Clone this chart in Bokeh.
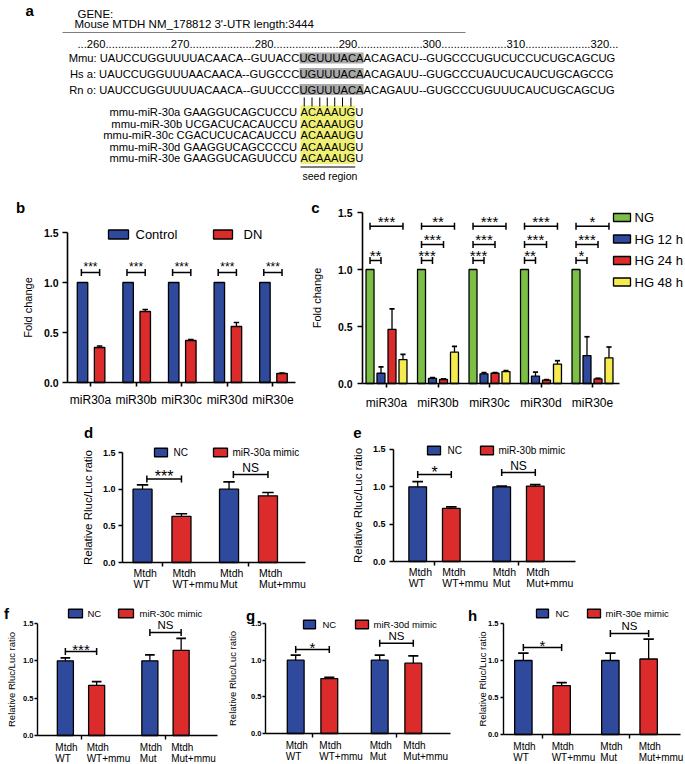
import numpy as np
from bokeh.plotting import figure
from bokeh.layouts import column, row
from bokeh.models import Range1d, FixedTicker, PrintfTickFormatter, ColumnDataSource
from bokeh.embed import file_html
from bokeh.resources import INLINE
from bokeh.core.properties import value

FONT = "Liberation Sans"
BLUE = "#2F4A9C"
RED = "#DC2B2B"
GREEN = "#7DBF46"
YELLOW = "#F5EB4F"
GRAY_HL = "#A9A9A9"
YELLOW_HL = "#EFEF73"

# ---------------- data: panel a ----------------
gene_header = "GENE:"
gene_desc = "Mouse MTDH NM_178812 3'-UTR length:3444"
utr_positions = ["260", "270", "280", "290", "300", "310", "320"]
species = ["Mmu:", "Hs a:", "Rn o:"]
utr_5p = ["UAUCCUGGUUUUACAACA--GUUACC",
          "UAUCCUGGUUUAACAACA--GUGCCC",
          "UAUCCUGGUUUUACAACA--GUUCCC"]
utr_site = ["UGUUUACA", "UGUUUACA", "UGUUUACA"]
utr_3p = ["ACAGACU--GUGCCCUGUCUCCUCUGCAGCUG",
          "ACAGAUU--GUGCCCUAUCUCAUCUGCAGCCG",
          "ACAGAUU--GUGCCCUGUUUCAUCUGCAGCUG"]
mirna_names = ["mmu-miR-30a", "mmu-miR-30b", "mmu-miR-30c", "mmu-miR-30d", "mmu-miR-30e"]
mirna_3end = ["GAAGGUCAGCUCCU", "UCGACUCACAUCCU", "CGACUCUCACAUCCU",
              "GAAGGUCAGCCCCU", "GAAGGUCAGUUCCU"]
mirna_seed = "ACAAAUG"
mirna_5end = "U"
seed_caption = "seed region"

# ---------------- data: panel b ----------------
mir_categories = ["miR30a", "miR30b", "miR30c", "miR30d", "miR30e"]
b_series = ["Control", "DN"]
control_fc = [1.0, 1.0, 1.0, 1.0, 1.0]
control_err = [0.0, 0.0, 0.0, 0.0, 0.0]
dn_fc = [0.35, 0.71, 0.42, 0.56, 0.09]
dn_err = [0.015, 0.02, 0.01, 0.04, 0.004]
dn_sig = ["***", "***", "***", "***", "***"]

# ---------------- data: panel c ----------------
c_series = ["NG", "HG 12 h", "HG 24 h", "HG 48 h"]
ng_fc = [1.0, 1.0, 1.0, 1.0, 1.0]
ng_err = [0.0, 0.0, 0.0, 0.0, 0.0]
hg12_fc = [0.09, 0.045, 0.085, 0.065, 0.245]
hg12_err = [0.055, 0.006, 0.01, 0.035, 0.165]
hg24_fc = [0.475, 0.035, 0.09, 0.03, 0.04]
hg24_err = [0.18, 0.005, 0.005, 0.004, 0.006]
hg48_fc = [0.21, 0.275, 0.105, 0.17, 0.225]
hg48_err = [0.045, 0.05, 0.008, 0.03, 0.095]
sig_ng_vs_12 = ["**", "***", "***", "**", "*"]
sig_ng_vs_24 = ["", "***", "***", "***", "***"]
sig_ng_vs_48 = ["***", "**", "***", "***", "*"]

# ---------------- data: panels d-h (luciferase) ----------------
luc_groups = ["WT", "Mut"]
luc_line1 = ["Mtdh", "Mtdh", "Mtdh", "Mtdh"]
luc_line2 = ["WT", "WT+mmu", "Mut", "Mut+mmu"]
luc_series = "NC"
mimic_names = ["miR-30a mimic", "miR-30b mimic", "miR-30c mimic", "miR-30d mimic", "miR-30e mimic"]
luc_ylabel = "Relative Rluc/Luc ratio"

d_nc = [1.0, 1.0]
d_nc_err = [0.06, 0.10]
d_mimic = [0.63, 0.91]
d_mimic_err = [0.035, 0.045]
d_sig = ["***", "NS"]

e_nc = [1.0, 1.0]
e_nc_err = [0.07, 0.01]
e_mimic = [0.71, 1.01]
e_mimic_err = [0.02, 0.02]
e_sig = ["*", "NS"]

f_nc = [1.0, 1.0]
f_nc_err = [0.04, 0.08]
f_mimic = [0.67, 1.14]
f_mimic_err = [0.05, 0.16]
f_sig = ["***", "NS"]

g_nc = [1.0, 1.0]
g_nc_err = [0.07, 0.07]
g_mimic = [0.75, 0.96]
g_mimic_err = [0.015, 0.10]
g_sig = ["*", "NS"]

h_nc = [1.0, 1.0]
h_nc_err = [0.10, 0.10]
h_mimic = [0.66, 1.02]
h_mimic_err = [0.04, 0.27]
h_sig = ["*", "NS"]

# ---------------- helpers ----------------
W = {"A": 667, "C": 722, "G": 778, "U": 722, "-": 333, ".": 278, " ": 278, ":": 278,
     "M": 833, "m": 833, "u": 556, "H": 722, "s": 500, "a": 556, "R": 722, "n": 556,
     "o": 556, "i": 222}
for _d in "0123456789":
    W[_d] = 556


def tw(s, size):
    return sum(W.get(c, 556) for c in s) * size / 1000.0


def X(g, px):
    return (px - g["c0"]) / g["ux"]


def Y(g, py):
    return (g["y0"] - py) / g["uy"]


def make_fig(g):
    p = figure(width=g["w"], height=g["h"],
               x_range=Range1d(X(g, g["ox"]), X(g, g["ox"] + g["w"])),
               y_range=Range1d(Y(g, g["oy"] + g["h"]), Y(g, g["oy"])),
               output_backend="svg", toolbar_location=None, min_border=0)
    p.outline_line_color = None
    p.xgrid.visible = False
    p.ygrid.visible = False
    p.background_fill_color = "white"
    p.border_fill_color = "white"
    return p


def style_axes(p, g, xlabels, s):
    p.yaxis.fixed_location = X(g, g["ax"])
    p.xaxis.fixed_location = 0
    p.xaxis.bounds = (X(g, g["ax"]), X(g, g["xend"]))
    p.yaxis.bounds = (0, 1.5)
    p.xaxis.ticker = FixedTicker(ticks=list(range(len(xlabels))))
    p.xaxis.major_label_overrides = {i: t for i, t in enumerate(xlabels)}
    p.yaxis.ticker = FixedTicker(ticks=[0, 0.5, 1.0, 1.5])
    p.yaxis.formatter = PrintfTickFormatter(format="%.1f")
    for ax in (p.xaxis[0], p.yaxis[0]):
        ax.axis_line_color = "black"
        ax.axis_line_width = s["lw"]
        ax.major_tick_line_color = "black"
        ax.major_tick_line_width = s["lw"]
        ax.minor_tick_line_color = None
        ax.major_tick_in = 0
        ax.major_label_text_font = FONT
        ax.major_label_text_color = "black"
        ax.axis_label_text_font = FONT
        ax.axis_label_text_font_style = "normal"
        ax.axis_label_text_color = "black"
    p.xaxis.major_tick_out = int(s["xtick"])
    p.yaxis.major_tick_out = int(s["ytick"])
    p.yaxis.major_label_text_font_style = "bold"
    p.yaxis.major_label_text_font_size = f"{s['ytick_px']}px"
    p.yaxis.major_label_standoff = int(s["ystand"])
    p.yaxis.axis_label = s["ylabel"]
    p.yaxis.axis_label_text_font_size = f"{s['ylab_px']}px"
    p.yaxis.axis_label_standoff = int(s["ylab_stand"])
    p.xaxis.major_label_text_font_size = f"{s['xlab_px']}px"
    p.xaxis.major_label_standoff = int(s["xstand"])


def bars(p, xs, tops, errs, width, color, cap_half, lw=1.3):
    src = ColumnDataSource(dict(x=[float(v) for v in xs], top=list(tops)))
    p.vbar(x="x", top="top", bottom=0, width=width, fill_color=color,
           line_color="black", line_width=lw, source=src)
    ex = [float(x) for x, e in zip(xs, errs) if e > 0]
    et = [t for t, e in zip(tops, errs) if e > 0]
    ee = [t + e for t, e in zip(tops, errs) if e > 0]
    if ex:
        p.segment(x0=ex, y0=et, x1=ex, y1=ee, line_color="black", line_width=lw)
        p.segment(x0=[x - cap_half for x in ex], y0=ee, x1=[x + cap_half for x in ex], y1=ee,
                  line_color="black", line_width=lw + 0.4)


def brackets(p, g, x0s, x1s, levels, labels, font_px, off_px, tick_px=3.5, lw=1.5,
             ns_px=None, ns_off=None):
    bx0, by0, bx1, by1 = [], [], [], []
    th = tick_px / g["uy"]
    tx, ty, tt, ts = [], [], [], []
    for a, b, lv, lab in zip(x0s, x1s, levels, labels):
        if not lab:
            continue
        a, b = float(a), float(b)
        bx0 += [a, a, b]
        bx1 += [b, a, b]
        by0 += [lv, lv - th, lv - th]
        by1 += [lv, lv + th, lv + th]
        tx.append((a + b) / 2)
        tt.append(lab)
        if lab == "NS":
            ty.append(lv + (ns_off if ns_off is not None else off_px) / g["uy"])
            ts.append(f"{ns_px if ns_px else font_px}px")
        else:
            ty.append(lv + off_px / g["uy"])
            ts.append(f"{font_px}px")
    p.segment(x0=bx0, y0=by0, x1=bx1, y1=by1, line_color="black", line_width=lw)
    src = ColumnDataSource(dict(x=tx, y=ty, t=tt, s=ts))
    p.text(x="x", y="y", text="t", text_font_size="s", text_align="center",
           text_baseline="middle", text_font=value(FONT), text_color="black", source=src)


def legend_boxes(p, g, items, font_px, box_h):
    for x0, x1, txp, yp, lab, col in items:
        p.quad(left=[X(g, x0)], right=[X(g, x1)], top=[Y(g, yp - box_h / 2)],
               bottom=[Y(g, yp + box_h / 2)], fill_color=col, line_color="black", line_width=1.3)
        p.text(x=[X(g, txp)], y=[Y(g, yp)], text=[lab], text_font=value(FONT),
               text_font_size=f"{font_px}px", text_baseline="middle", text_align="left",
               text_color="black")


def panel_letter(p, g, letter, lx, ly, size=15):
    p.text(x=[X(g, lx)], y=[Y(g, ly)], text=[letter], text_font=value(FONT),
           text_font_size=f"{size}px", text_font_style="bold", text_align="center",
           text_baseline="middle", text_color="black")


# ---------------- panel a ----------------
SZ = 11.2
pa = figure(width=685, height=185, x_range=Range1d(0, 685), y_range=Range1d(185, 0),
            output_backend="svg", toolbar_location=None, x_axis_type=None, y_axis_type=None,
            min_border=0)
pa.outline_line_color = None
pa.background_fill_color = "white"
pa.border_fill_color = "white"
txt = dict(text_font=value(FONT), text_color="black", text_baseline="middle")
pa.text(x=[25], y=[10], text=["a"], text_font_size="15px", text_font_style="bold", **txt)
pa.text(x=[77, 74], y=[13, 23.5], text=[gene_header, gene_desc], text_font_size="11.5px", **txt)
pa.segment(x0=[62], y0=[32], x1=[465], y1=[32], line_color="#7F7F7F", line_width=1.2)
pos_line = "..." + ("." * 21).join(utr_positions) + "..."
pa.text(x=[77], y=[43], text=[pos_line], text_font_size=f"{SZ}px", **txt)

row_y = [57.5, 73, 89]
site_x = 299
site_w = [tw(s, SZ) for s in utr_site]
utr_left = [f"{sp} {s}" for sp, s in zip(species, utr_5p)]
pa.quad(left=[site_x] * 3, right=[site_x + w for w in site_w],
        top=[y - 5.5 for y in row_y], bottom=[y + 5.5 for y in row_y],
        fill_color=GRAY_HL, line_color=None)
pa.text(x=[site_x - tw(t, SZ) for t in utr_left], y=row_y, text=utr_left,
        text_align="left", text_font_size=f"{SZ}px", **txt)
pa.text(x=[site_x] * 3, y=row_y, text=utr_site, text_align="left", text_font_size=f"{SZ}px", **txt)
pa.text(x=[site_x + w for w in site_w], y=row_y, text=utr_3p, text_align="left",
        text_font_size=f"{SZ}px", **txt)

mir_y = [111, 123, 134.5, 146, 157.5]
seed_x = 300
seed_w = tw(mirna_seed, SZ)
mir_left = [f"{n}  {s}" for n, s in zip(mirna_names, mirna_3end)]
pa.quad(left=[seed_x], right=[seed_x + seed_w], top=[105], bottom=[163.5],
        fill_color=YELLOW_HL, line_color=None)
pa.text(x=[seed_x - tw(t, SZ) for t in mir_left], y=mir_y, text=mir_left,
        text_align="left", text_font_size=f"{SZ}px", **txt)
pa.text(x=[seed_x] * 5, y=mir_y, text=[mirna_seed] * 5, text_align="left",
        text_font_size=f"{SZ}px", **txt)
pa.text(x=[seed_x + seed_w] * 5, y=mir_y, text=[mirna_5end] * 5, text_align="left",
        text_font_size=f"{SZ}px", **txt)
cum = np.cumsum([0] + [W[c] for c in mirna_seed]) * SZ / 1000.0
centers = [float(v) for v in seed_x + (cum[:-1] + cum[1:]) / 2]
pa.segment(x0=centers, y0=[97] * len(centers), x1=centers, y1=[106] * len(centers),
           line_color="black", line_width=1)
pa.segment(x0=[seed_x], y0=[166.5], x1=[seed_x + seed_w], y1=[166.5], line_color="black", line_width=1)
pa.text(x=[seed_x + seed_w / 2 + 2], y=[175.5], text=[seed_caption], text_align="center",
        text_font_size="10.5px", **txt)

# ---------------- panel b ----------------
gb = dict(ox=0, oy=185, w=310, h=240, ax=67, c0=90, ux=45.6, y0=382, uy=100, xend=295)
pb = make_fig(gb)
style_axes(pb, gb, mir_categories,
           dict(lw=1.6, xtick=4, ytick=5, ytick_px=10.5, ystand=4, ylabel="Fold change",
                ylab_px=11, ylab_stand=7, xlab_px=12, xstand=6))
xi = np.arange(len(mir_categories))
bars(pb, xi - 0.175, control_fc, control_err, 0.23, BLUE, 0.06)
bars(pb, xi + 0.2, dn_fc, dn_err, 0.23, RED, 0.06)
brackets(pb, gb, list(xi - 0.2), list(xi + 0.2), [1.10] * 5, dn_sig, 12, 6)
legend_boxes(pb, gb, [(108, 128, 135, 234, b_series[0], BLUE),
                      (213, 232, 243, 234, b_series[1], RED)], 13, 9)
panel_letter(pb, gb, "b", 20, 207)

# ---------------- panel c ----------------
gc = dict(ox=310, oy=185, w=375, h=240, ax=362, c0=386, ux=51.5, y0=383, uy=114, xend=619)
pc = make_fig(gc)
style_axes(pc, gc, mir_categories,
           dict(lw=1.6, xtick=4, ytick=5, ytick_px=10.5, ystand=5, ylabel="Fold change",
                ylab_px=11, ylab_stand=12, xlab_px=12, xstand=8))
offs = [-0.32, -0.107, 0.107, 0.32]
bars(pc, xi + offs[0], ng_fc, ng_err, 0.155, GREEN, 0.05)
bars(pc, xi + offs[1], hg12_fc, hg12_err, 0.155, BLUE, 0.05)
bars(pc, xi + offs[2], hg24_fc, hg24_err, 0.155, RED, 0.05)
bars(pc, xi + offs[3], hg48_fc, hg48_err, 0.155, YELLOW, 0.05)
brackets(pc, gc, list(xi + offs[0]), list(xi + offs[1]), [1.08] * 5, sig_ng_vs_12, 15, 4.5)
brackets(pc, gc, list(xi + offs[0]), list(xi + offs[2]), [1.22] * 5, sig_ng_vs_24, 15, 4.5)
brackets(pc, gc, list(xi + offs[0]), list(xi + offs[3]), [1.38] * 5, sig_ng_vs_48, 15, 4.5)
legend_boxes(pc, gc, [(613, 630, 634, 217, c_series[0], GREEN),
                      (613, 630, 634, 238.5, c_series[1], BLUE),
                      (613, 630, 634, 260, c_series[2], RED),
                      (613, 630, 634, 281.5, c_series[3], YELLOW)], 13, 8)
panel_letter(pc, gc, "c", 315, 207)


# ---------------- luciferase panels ----------------
def luc_panel(g, nc, nc_err, mimic, mimic_err, sig, mimic_name, letter, lpos, legend, st):
    p = make_fig(g)
    style_axes(p, g, ["", ""], st)
    xg = np.arange(len(luc_groups))
    off, bw = st["off"], st["bw"]
    bars(p, xg - off, nc, nc_err, bw, BLUE, bw * 0.3)
    bars(p, xg + off, mimic, mimic_err, bw, RED, bw * 0.3)
    brackets(p, g, list(xg - off + st["bl"]), list(xg + off + st["br"]), st["levels"], sig,
             st["star_px"], st["star_off"], ns_px=st["ns_px"], ns_off=st["ns_off"])
    ly, ncx0, ncx1, nct, mx0, mx1, mt = legend
    legend_boxes(p, g, [(ncx0, ncx1, nct, ly, luc_series, BLUE),
                        (mx0, mx1, mt, ly, mimic_name, RED)], st["leg_px"], 8.5)
    xs = [float(v) for v in (xg[0] - off, xg[0] + off, xg[1] - off, xg[1] + off)]
    dx = st["lab_dx"] / g["ux"]
    for lines, yo in ((luc_line1, st["l1"]), (luc_line2, st["l2"])):
        p.text(x=[x + dx for x in xs], y=[-yo / g["uy"]] * 4, text=lines,
               text_font=value(FONT), text_font_size=f"{st['lab_px']}px",
               text_align="left", text_baseline="middle", text_color="black")
    panel_letter(p, g, letter, lpos[0], lpos[1], st.get("letter_px", 15))
    return p


base_de = dict(lw=1.5, xtick=4, ytick=4, ytick_px=9, ystand=3, ylabel=luc_ylabel,
               ylab_px=11.5, xlab_px=1, xstand=2, star_px=16, star_off=2, ns_px=12,
               ns_off=7, leg_px=10, lab_px=10.5, l1=10, l2=21, lab_dx=-9)
base_fgh = dict(lw=1.4, xtick=4, ytick=3, ytick_px=7.5, ystand=1, ylabel=luc_ylabel,
                ylab_px=9.5, xlab_px=1, xstand=2, star_px=15, star_off=2, ns_px=11.5,
                ns_off=7, leg_px=9.5, lab_px=10, l1=12, l2=23, lab_dx=-10)

gd = dict(ox=0, oy=425, w=340, h=163, ax=122, c0=161.5, ux=86.5, y0=562, uy=73.3, xend=305)
pd_ = luc_panel(gd, d_nc, d_nc_err, d_mimic, d_mimic_err, d_sig, mimic_names[0], "d",
                (88, 432), (452, 154, 167, 173, 213, 227, 232),
                dict(base_de, off=0.225, bw=0.22, bl=0.05, br=0.0, levels=[1.14, 1.20],
                     ylab_stand=6))

ge = dict(ox=340, oy=425, w=345, h=163, ax=393, c0=434, ux=84, y0=561, uy=74.7, xend=575)
pe_ = luc_panel(ge, e_nc, e_nc_err, e_mimic, e_mimic_err, e_sig, mimic_names[1], "e",
                (357, 432), (450, 427, 440, 447, 480, 493, 498),
                dict(base_de, off=0.2, bw=0.21, bl=0.0, br=0.0, levels=[1.165, 1.19],
                     ylab_stand=6, ytick=4, ystand=4))

gf = dict(ox=0, oy=588, w=226, h=176, ax=37, c0=80.5, ux=84.5, y0=735, uy=74.7, xend=217)
pf_ = luc_panel(gf, f_nc, f_nc_err, f_mimic, f_mimic_err, f_sig, mimic_names[2], "f",
                (6, 613), (613, 68, 82, 87, 118, 133, 139),
                dict(base_fgh, off=0.185, bw=0.19, bl=0.0, br=0.0, levels=[1.125, 1.38],
                     ylab_stand=3))

gg = dict(ox=226, oy=588, w=226, h=176, ax=265, c0=312, ux=84, y0=733, uy=73.3, xend=450)
pg_ = luc_panel(gg, g_nc, g_nc_err, g_mimic, g_mimic_err, g_sig, mimic_names[3], "g",
                (250, 615), (624, 303, 315, 322, 355, 368, 373),
                dict(base_fgh, off=0.2, bw=0.2, bl=0.0, br=0.0, levels=[1.146, 1.23],
                     ylab_stand=10))

gh = dict(ox=452, oy=588, w=233, h=176, ax=503, c0=542, ux=87, y0=734, uy=74, xend=680)
ph_ = luc_panel(gh, h_nc, h_nc_err, h_mimic, h_mimic_err, h_sig, mimic_names[4], "h",
                (472, 615), (613, 536, 548, 555, 587, 600, 605),
                dict(base_fgh, off=0.22, bw=0.2, bl=0.0, br=0.0, levels=[1.176, 1.365],
                     ylab_stand=-3, ystand=2))

layout = column(pa, row(pb, pc), row(pd_, pe_), row(pf_, pg_, ph_))
open("out.html", "w").write(file_html(layout, INLINE))
